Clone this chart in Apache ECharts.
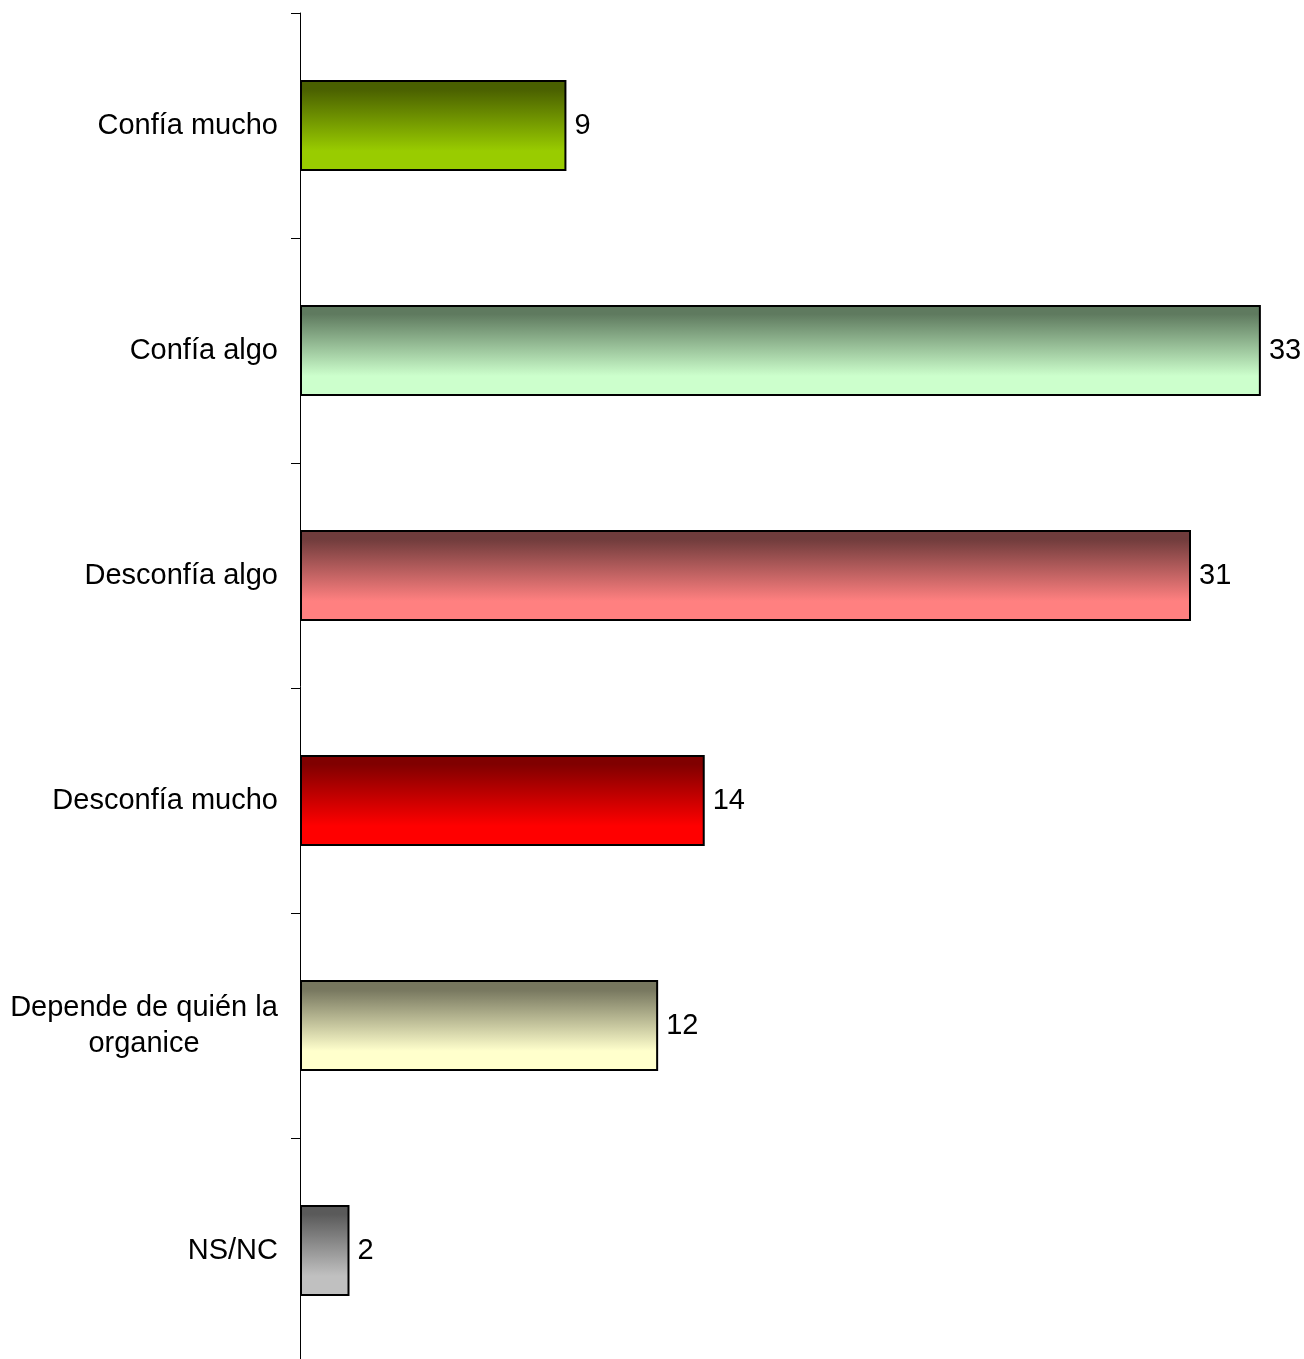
<!DOCTYPE html>
<html>
<head>
<meta charset="utf-8">
<script src="https://cdn.jsdelivr.net/npm/echarts@6/dist/echarts.min.js"></script>
<style>html,body{margin:0;padding:0;background:#fff;}#c{width:1304px;height:1359px;}</style>
</head>
<body>
<div id="c"></div>
<script>
const categories = ['Confía mucho', 'Confía algo', 'Desconfía algo', 'Desconfía mucho', 'Depende de quién la\norganice', 'NS/NC'];
const values = [9.15, 33.0, 30.6, 13.9, 12.3, 1.7];
const topColors = ['#4a6000', '#5f7a5f', '#703c3c', '#800000', '#76765e', '#5a5a5a'];
const bottomColors = ['#99cc00', '#ccffcc', '#ff8080', '#ff0000', '#ffffcc', '#c0c0c0'];

const chart = echarts.init(document.getElementById('c'), null, {renderer: 'canvas'});
const font = '"Liberation Sans", Arial, sans-serif';
chart.setOption({
  animation: false,
  backgroundColor: '#fff',
  grid: {left: 300, top: 13, width: 990, height: 1350, containLabel: false, outerBoundsMode: 'none'},
  xAxis: {type: 'value', min: 0, max: 34, show: false},
  yAxis: {
    type: 'category',
    data: categories,
    inverse: true,
    axisLine: {show: true, lineStyle: {color: '#000', width: 1}},
    axisTick: {show: true, length: 9, lineStyle: {color: '#000', width: 1}},
    splitLine: {show: false},
    axisLabel: {
      margin: 22,
      fontFamily: font,
      fontSize: 29,
      color: '#000',
      lineHeight: 36,
      formatter: function (v) {
        if (v.indexOf('\n') >= 0) {
          return v.split('\n').map(s => '{c|' + s + '}').join('\n');
        }
        return v;
      },
      rich: {c: {width: 268, align: 'center', fontFamily: font, fontSize: 29, lineHeight: 36, color: '#000'}}
    }
  },
  series: [{
    type: 'bar',
    barWidth: 91,
    data: values.map((v, i) => ({
      value: v,
      itemStyle: {
        color: new echarts.graphic.LinearGradient(0, 0, 0, 1, [
          {offset: 0, color: topColors[i]},
          {offset: 0.1, color: topColors[i]},
          {offset: 0.78, color: bottomColors[i]},
          {offset: 1, color: bottomColors[i]}
        ]),
        borderColor: '#000',
        borderWidth: 2
      }
    })),
    label: {
      show: true,
      position: 'right',
      distance: 8,
      fontFamily: font,
      fontSize: 29,
      color: '#000',
      formatter: p => String(Math.round(p.value))
    }
  }]
});
</script>
</body>
</html>
